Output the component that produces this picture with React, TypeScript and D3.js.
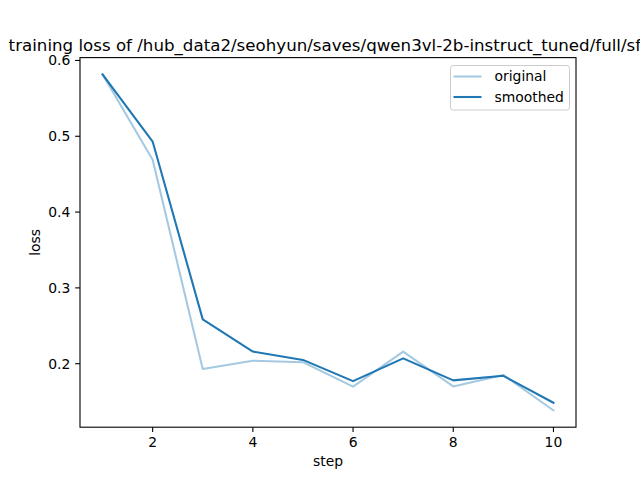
import React from "react";
import * as d3 from "d3";

const steps = [1, 2, 3, 4, 5, 6, 7, 8, 9, 10];
const originalLoss = [0.5816, 0.469, 0.193, 0.204, 0.202, 0.1697, 0.216, 0.170, 0.185, 0.1384];
const smoothedLoss = [0.5816, 0.493, 0.2585, 0.216, 0.205, 0.177, 0.207, 0.178, 0.184, 0.1485];
const xTicks = [2, 4, 6, 8, 10];
const yTicks = [0.2, 0.3, 0.4, 0.5, 0.6];
const titleText = "training loss of /hub_data2/seohyun/saves/qwen3vl-2b-instruct_tuned/full/sft";

const W = 640, H = 480;
const L = 80, R = 576, T = 57.6, B = 427.2;
const FONT = "DejaVu Sans, sans-serif";

export default function App() {
  const allY = [...originalLoss, ...smoothedLoss];
  const yMin = d3.min(allY)!, yMax = d3.max(allY)!;
  const yPad = (yMax - yMin) * 0.05;
  const xPad = (d3.max(steps)! - d3.min(steps)!) * 0.05;
  const x = d3.scaleLinear().domain([d3.min(steps)! - xPad, d3.max(steps)! + xPad]).range([L, R]);
  const y = d3.scaleLinear().domain([yMin - yPad, yMax + yPad]).range([B, T]);
  const line = d3.line<number>().x((_, i) => x(steps[i])).y((d) => y(d));
  const tickLen = 4.86;
  const fs = 13.9;
  return (
    <svg width={W} height={H} style={{ position: "absolute", left: 0, top: 0 }} fontFamily={FONT}>
      <rect x={0} y={0} width={W} height={H} fill="#fff" />
      <text x={(L + R) / 2} y={51} fontSize={16.67} textAnchor="middle" fill="#000">{titleText}</text>
      <path d={line(originalLoss) || ""} fill="none" stroke="#1f77b4" strokeOpacity={0.4} strokeWidth={2.08} strokeLinejoin="round" strokeLinecap="square" />
      <path d={line(smoothedLoss) || ""} fill="none" stroke="#1f77b4" strokeWidth={2.08} strokeLinejoin="round" strokeLinecap="square" />
      <rect x={L} y={T} width={R - L} height={B - T} fill="none" stroke="#000" strokeWidth={1.1} />
      {xTicks.map((t) => (
        <g key={"x" + t}>
          <line x1={x(t)} x2={x(t)} y1={B} y2={B + tickLen} stroke="#000" strokeWidth={1.1} />
          <text x={x(t)} y={B + tickLen + 4.86 + 10.5} fontSize={fs} textAnchor="middle" fill="#000">{t}</text>
        </g>
      ))}
      {yTicks.map((t) => (
        <g key={"y" + t}>
          <line x1={L - tickLen} x2={L} y1={y(t)} y2={y(t)} stroke="#000" strokeWidth={1.1} />
          <text x={L - tickLen - 4.86} y={y(t)} dy="0.35em" fontSize={fs} textAnchor="end" fill="#000">{t.toFixed(1)}</text>
        </g>
      ))}
      <text x={(L + R) / 2} y={466} fontSize={fs} textAnchor="middle" fill="#000">step</text>
      <text transform={`translate(40,${(T + B) / 2}) rotate(-90)`} fontSize={fs} textAnchor="middle" fill="#000">loss</text>
      <g>
        <rect x={450.5} y={65.5} width={119} height={44.5} rx={2.8} fill="#fff" fillOpacity={0.8} stroke="#cccccc" strokeWidth={1} />
        <line x1={453.5} x2={481.5} y1={76.5} y2={76.5} stroke="#1f77b4" strokeOpacity={0.4} strokeWidth={2.08} />
        <text x={494.5} y={76.5} dy="0.35em" fontSize={fs} fill="#000">original</text>
        <line x1={453.5} x2={481.5} y1={97} y2={97} stroke="#1f77b4" strokeWidth={2.08} />
        <text x={494.5} y={97} dy="0.35em" fontSize={fs} fill="#000">smoothed</text>
      </g>
    </svg>
  );
}
